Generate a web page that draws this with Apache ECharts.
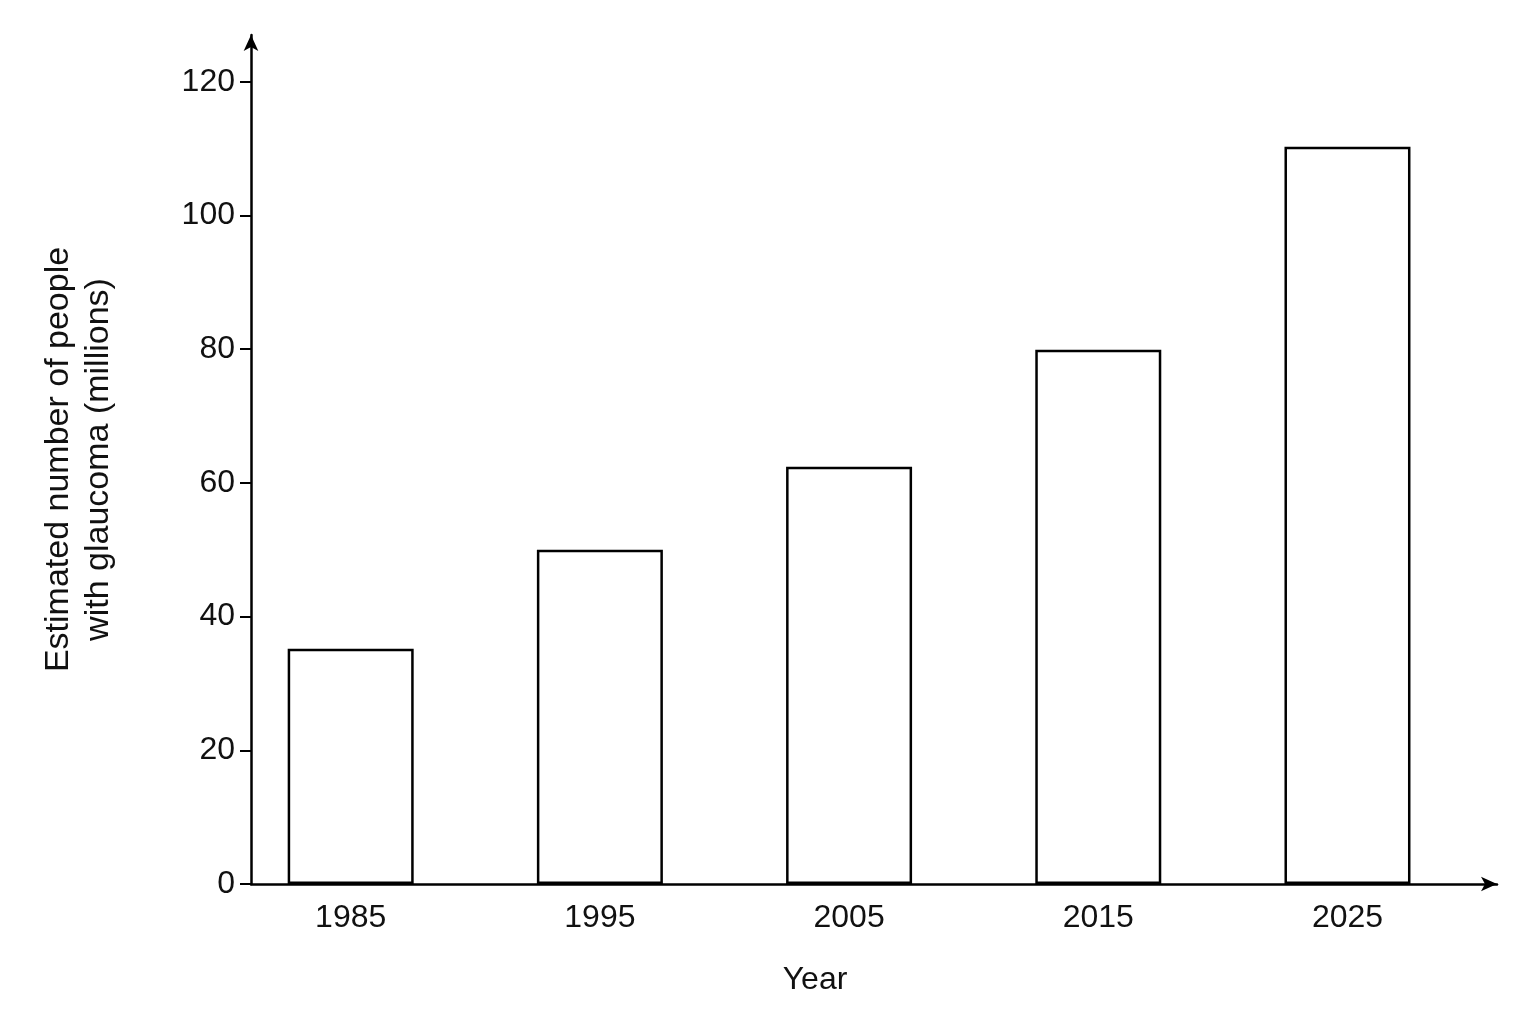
<!DOCTYPE html>
<html><head><meta charset="utf-8">
<script src="https://cdn.jsdelivr.net/npm/echarts@6/dist/echarts.min.js"></script>
<style>html,body{margin:0;background:#fff}#c{width:1536px;height:1024px}</style>
</head><body><div id="c"></div>
<script>
const years = [1985, 1995, 2005, 2015, 2025];
const values = [35.2, 50, 62.4, 79.9, 110.3];
const yTicks = [0, 20, 40, 60, 80, 100, 120];
const chart = echarts.init(document.getElementById('c'));
const font = 'Liberation Sans, Arial, sans-serif';
chart.setOption({
  backgroundColor: '#fff',
  animation: false,
  grid: {left: 251, right: 39, top: 35, bottom: 140},
  xAxis: {
    type: 'value', min: 1981, max: 2031,
    splitLine: {show: false},
    axisLine: {lineStyle: {color: '#000', width: 2.5}, symbol: ['none', 'arrow'], symbolSize: [11, 16]},
    axisTick: {show: false},
    axisLabel: {customValues: years, formatter: v => String(v), color: '#111', fontSize: 32, fontFamily: font, margin: 18},
    name: 'Year', nameLocation: 'middle', nameGap: 80,
    nameTextStyle: {color: '#111', fontSize: 32, fontFamily: font, padding: [0, 118, 0, 0]}
  },
  yAxis: {
    type: 'value', min: 0, max: 127,
    splitLine: {show: false},
    axisLine: {show: true, lineStyle: {color: '#000', width: 2.5}, symbol: ['none', 'arrow'], symbolSize: [11, 16]},
    axisTick: {show: true, customValues: yTicks, length: 11, lineStyle: {color: '#000', width: 2}},
    axisLabel: {customValues: yTicks, color: '#111', fontSize: 32, fontFamily: font, margin: 16},
    name: 'Estimated number of people\nwith glaucoma (millions)', nameLocation: 'middle', nameGap: 132,
    nameRotate: 90,
    nameTextStyle: {color: '#111', fontSize: 34, fontFamily: font, lineHeight: 40}
  },
  series: [{
    type: 'bar', barWidth: 126,
    data: years.map((y, i) => [y, values[i]]),
    itemStyle: {color: '#fff', borderColor: '#000', borderWidth: 2.5}
  }]
});
</script></body></html>
